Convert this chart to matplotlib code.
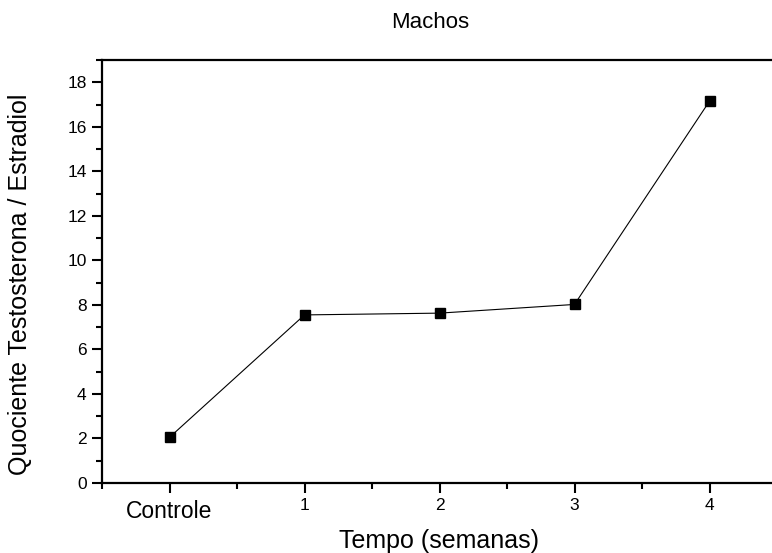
import matplotlib.pyplot as plt
from matplotlib.ticker import MultipleLocator

plt.rcParams['font.family'] = ['Liberation Sans', 'DejaVu Sans']

# dados
semanas = [0, 1, 2, 3, 4]
rotulos = ['Controle', '1', '2', '3', '4']
quociente = [2.05, 7.55, 7.63, 8.02, 17.15]

fig = plt.figure(figsize=(7.72, 5.53), dpi=100)
ax = fig.add_axes([102 / 772, 70 / 553, 675 / 772, 423 / 553])

ax.plot(semanas, quociente, color='black', linewidth=0.8,
        marker='s', markersize=7.5, markerfacecolor='black', markeredgecolor='black')

ax.set_xlim(-0.5, 4.5)
ax.set_ylim(0, 19)
ax.set_xticks(semanas)
ax.set_xticklabels(rotulos)
ax.xaxis.set_minor_locator(MultipleLocator(0.5))
ax.yaxis.set_major_locator(MultipleLocator(2))
ax.yaxis.set_minor_locator(MultipleLocator(1))

ax.tick_params(which='major', direction='out', length=7, width=1.5, labelsize=12.5, pad=4)
ax.tick_params(which='minor', direction='out', length=4, width=1.5)
ax.tick_params(top=False, right=False)
for s in ['left', 'bottom', 'top']:
    ax.spines[s].set_linewidth(1.6)
ax.spines['right'].set_visible(False)

# "Controle" fica um pouco mais baixo e maior
t0 = ax.xaxis.get_major_ticks()[0]
t0.set_pad(5)
t0.label1.set_fontsize(16.5)

fig.text(430 / 772, 1 - 23 / 553, 'Machos', ha='center', va='center', fontsize=16)
fig.text(439 / 772, 1 - 541 / 553, 'Tempo (semanas)', ha='center', va='center', fontsize=18)
fig.text(20 / 772, 1 - 284 / 553, 'Quociente Testosterona / Estradiol',
         ha='center', va='center', rotation=90, fontsize=18)

fig.savefig('out.png', dpi=100)
